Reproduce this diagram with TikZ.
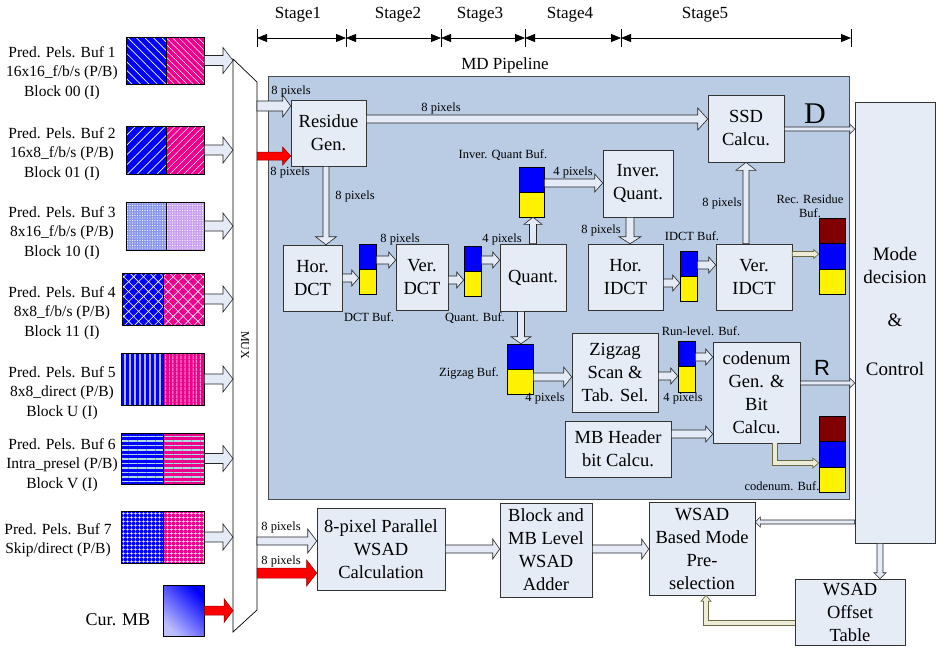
\documentclass[tikz,border=0pt]{standalone}
\usepackage{fontspec}
\setmainfont{Liberation Serif}
\newfontfamily\sansf{Liberation Sans}
\usetikzlibrary{calc,patterns.meta,arrows.meta}
\definecolor{pipe}{RGB}{185,204,228}
\definecolor{boxfill}{RGB}{230,236,246}
\definecolor{arrfill}{RGB}{228,234,246}
\definecolor{cream}{RGB}{236,236,214}
\definecolor{olivedk}{RGB}{105,105,70}
\definecolor{dred}{RGB}{128,0,0}
\definecolor{lav}{RGB}{200,160,238}
\definecolor{bluedot}{RGB}{135,150,235}
\definecolor{cyanln}{RGB}{170,220,225}
% block arrow: [style]{from}{to}{shaft half width}{head half width}{head length}
\newcommand\blk[6][]{%
  \path let \p1=(#2), \p2=(#3), \n1={atan2(\y2-\y1,\x2-\x1)}, \n2={veclen(\x2-\x1,\y2-\y1)} in
    \pgfextra{\xdef\blkang{\n1}\xdef\blklen{\n2}} (\p1) coordinate (blkS);
  \begin{scope}[shift={(blkS)}, rotate=\blkang]
    \draw[barrow,#1] (0,#4) -- (\blklen-#6,#4) -- (\blklen-#6,#5) -- (\blklen,0)
      -- (\blklen-#6,-#5) -- (\blklen-#6,-#4) -- (0,-#4) -- cycle;
  \end{scope}}
\begin{document}
\begin{tikzpicture}[x=1pt,y=-1pt,
  box/.style={draw=black!80, fill=boxfill, line width=0.6pt, align=center, inner sep=0pt,
    font=\fontsize{18.5}{23}\selectfont},
  lbl/.style={inner sep=0pt, align=center, font=\fontsize{12.5}{14}\selectfont},
  buflbl/.style={inner sep=0pt, align=center, font=\fontsize{15.5}{19.5}\selectfont},
  stglbl/.style={inner sep=0pt, font=\fontsize{17}{19}\selectfont},
  barrow/.style={draw=black!85, fill=arrfill, line width=0.6pt, line join=miter},
  redarr/.style={draw=red!55!black, fill=red, line width=0.5pt},
  creamarr/.style={draw=olivedk, fill=cream, line width=0.7pt},
  creamline/.style={draw=olivedk, line width=0.7pt, double=cream, double distance=4.3pt},
  bufc/.style={draw=black, line width=0.6pt, inner sep=0pt},
  pbuf/.style={draw=black, line width=0.9pt, inner sep=0pt},
  stg/.style={line width=0.8pt, >={Triangle[length=10pt,width=8pt]}, <->}
]
\useasboundingbox (0,0) rectangle (936,648);
\fill[white] (0,0) rectangle (936,648);

% ---------- stage header ----------
\coordinate (t0) at (257,38);
\coordinate (t1) at (346,38);
\coordinate (t2) at (441,38);
\coordinate (t3) at (525,38);
\coordinate (t4) at (621,38);
\coordinate (t5) at (851,38);
\foreach \tk in {t0,t1,t2,t3,t4,t5} \draw[line width=0.7pt] (\tk) ++(0,-9) -- ++(0,18);
\draw[stg] (t0) -- (t1);
\draw[stg] (t1) -- (t2);
\draw[stg] (t2) -- (t3);
\draw[stg] (t3) -- (t4);
\draw[stg] (t4) -- (t5);
\node[stglbl] (s1) at (298,15) {Stage1};
\node[stglbl] (s2) at (398,15) {Stage2};
\node[stglbl] (s3) at (480,15) {Stage3};
\node[stglbl] (s4) at (570,15) {Stage4};
\node[stglbl] (s5) at (705,15) {Stage5};
\node[stglbl] (mdp) at (505,65) {MD Pipeline};

% ---------- pipeline background ----------
\node[draw=black!70, fill=pipe, line width=0.7pt, minimum width=581pt, minimum height=423pt,
  inner sep=0pt, anchor=north west] (pipe) at (268,76) {};

% ---------- left buffers ----------
\node[pbuf, minimum width=40pt, minimum height=47pt, preaction={fill=blue},
  pattern={Lines[angle=-45,distance=6pt,line width=0.7pt]}, pattern color=white] (b1l) at (146,60.5) {};
\node[pbuf, minimum width=38pt, minimum height=47pt, preaction={fill=magenta},
  pattern={Lines[angle=-45,distance=4.5pt,line width=0.5pt]}, pattern color=white] (b1r) at (185,60.5) {};
\node[pbuf, minimum width=40pt, minimum height=48pt, preaction={fill=blue},
  pattern={Lines[angle=45,distance=7pt,line width=0.7pt]}, pattern color=white] (b2l) at (146,150) {};
\node[pbuf, minimum width=38pt, minimum height=48pt, preaction={fill=magenta},
  pattern={Lines[angle=45,distance=5pt,line width=0.5pt]}, pattern color=white] (b2r) at (185,150) {};
\node[pbuf, minimum width=40pt, minimum height=48pt, preaction={fill=bluedot},
  pattern={Dots[distance=2.5pt,radius=0.6pt]}, pattern color=white] (b3l) at (146,226) {};
\node[pbuf, minimum width=38pt, minimum height=48pt, preaction={fill=lav},
  pattern={Dots[distance=2.5pt,radius=0.6pt]}, pattern color=white] (b3r) at (185,226) {};
\node[pbuf, minimum width=41pt, minimum height=52pt, preaction={fill=blue},
  pattern={Hatch[angle=45,distance=7pt,line width=0.6pt]}, pattern color=white] (b4l) at (142.5,299) {};
\node[pbuf, minimum width=41pt, minimum height=52pt, preaction={fill=magenta},
  pattern={Hatch[angle=45,distance=7pt,line width=0.6pt]}, pattern color=white] (b4r) at (183.5,299) {};
\node[pbuf, minimum width=42pt, minimum height=52pt, preaction={fill=blue},
  pattern={Lines[angle=90,distance=5pt,line width=1.2pt]}, pattern color=blue!30!white] (b5l) at (142,379) {};
\node[pbuf, minimum width=41pt, minimum height=52pt, preaction={fill=magenta},
  pattern={Lines[angle=90,distance=4pt,line width=0.8pt]}, pattern color=white] (b5r) at (183.5,379) {};
\node[pbuf, minimum width=42pt, minimum height=51pt, preaction={fill=blue},
  pattern={Lines[angle=0,distance=4.5pt,line width=1.1pt]}, pattern color=cyanln] (b6l) at (142,458.5) {};
\node[pbuf, minimum width=41pt, minimum height=51pt, preaction={fill=magenta},
  pattern={Lines[angle=0,distance=4.5pt,line width=1.1pt]}, pattern color=cyanln] (b6r) at (183.5,458.5) {};
\node[pbuf, minimum width=42pt, minimum height=52pt, preaction={fill=blue},
  pattern={Hatch[angle=0,distance=4pt,line width=0.5pt]}, pattern color=white] (b7l) at (142,537) {};
\node[pbuf, minimum width=41pt, minimum height=52pt, preaction={fill=magenta},
  pattern={Hatch[angle=0,distance=4pt,line width=0.5pt]}, pattern color=white] (b7r) at (183.5,537) {};
\node[pbuf, minimum width=41pt, minimum height=51pt, top color=blue, bottom color=blue!25!white,
  shading angle=-45] (cmb) at (183.5,610.5) {};

\node[buflbl] (l1) at (62,73) {Pred. Pels. Buf 1\\16x16\_f/b/s (P/B)\\Block 00 (I)};
\node[buflbl] (l2) at (62,154) {Pred. Pels. Buf 2\\16x8\_f/b/s (P/B)\\Block 01 (I)};
\node[buflbl] (l3) at (62,233) {Pred. Pels. Buf 3\\8x16\_f/b/s (P/B)\\Block 10 (I)};
\node[buflbl] (l4) at (62,313) {Pred. Pels. Buf 4\\8x8\_f/b/s (P/B)\\Block 11 (I)};
\node[buflbl] (l5) at (62,393) {Pred. Pels. Buf 5\\8x8\_direct (P/B)\\Block U (I)};
\node[buflbl] (l6) at (62,465) {Pred. Pels. Buf 6\\Intra\_presel (P/B)\\Block V (I)};
\node[buflbl] (l7) at (58,540) {Pred. Pels. Buf 7\\Skip/direct (P/B)};
\node[inner sep=0pt, font=\fontsize{18}{20}\selectfont] (lcur) at (118,620) {Cur. MB};

% ---------- MUX ----------
\draw[fill=white, line width=0.7pt] (233,59) -- (257,82) -- (257,610) -- (233,632) -- cycle;
\coordinate (muxL) at (233,0);
\node[rotate=-90, inner sep=0pt, font=\fontsize{12}{14}\selectfont] (muxlbl) at (245,345) {MUX};

\blk{b1r.east}{muxL |- b1r.east}{5}{13}{10}
\blk{b2r.east}{muxL |- b2r.east}{5}{13}{10}
\blk{b3r.east}{muxL |- b3r.east}{5}{13}{10}
\blk{b4r.east}{muxL |- b4r.east}{5}{13}{10}
\blk{b5r.east}{muxL |- b5r.east}{5}{13}{10}
\blk{b6r.east}{muxL |- b6r.east}{5}{13}{10}
\blk{b7r.east}{muxL |- b7r.east}{5}{13}{10}
\blk[redarr]{cmb.east}{muxL |- cmb.east}{4.5}{12}{9}

% ---------- pipeline boxes ----------
\node[box, minimum width=75pt, minimum height=66pt] (res) at (328.5,133) {Residue\\Gen.};
\node[box, minimum width=76pt, minimum height=67pt] (ssd) at (746,128.5) {SSD\\Calcu.};
\node[box, minimum width=59pt, minimum height=66pt] (hdct) at (312.5,278) {Hor.\\DCT};
\node[box, minimum width=52pt, minimum height=66pt] (vdct) at (422,277) {Ver.\\DCT};
\node[box, minimum width=66pt, minimum height=67pt] (quant) at (533,277.5) {Quant.};
\node[box, minimum width=70pt, minimum height=67pt] (iq) at (638,183.5) {Inver.\\Quant.};
\node[box, minimum width=75pt, minimum height=66pt] (hidct) at (625.5,277) {Hor.\\IDCT};
\node[box, minimum width=76pt, minimum height=66pt] (vidct) at (754,277) {Ver.\\IDCT};
\node[box, minimum width=86pt, minimum height=79pt] (zz) at (615,372.5) {Zigzag\\Scan \&\\Tab. Sel.};
\node[box, minimum width=87pt, minimum height=101pt] (cg) at (756.5,392.5) {codenum\\Gen. \&\\Bit\\Calcu.};
\node[box, minimum width=106pt, minimum height=56pt] (mbh) at (618,449) {MB Header\\bit Calcu.};

% ---------- outside boxes ----------
\node[box, minimum width=80pt, minimum height=441pt] (mode) at (895,322.5) {};
\node[inner sep=0pt, align=center, font=\fontsize{19}{23}\selectfont] (modetxt) at (895,311)
  {Mode\\decision\\[20pt]\&\\[26pt]Control};
\node[box, minimum width=128pt, minimum height=82pt] (wcalc) at (381,549) {8-pixel Parallel\\WSAD\\Calculation};
\node[box, minimum width=92pt, minimum height=94pt] (badd) at (546,550) {Block and\\MB Level\\WSAD\\Adder};
\node[box, minimum width=106pt, minimum height=93pt] (wbm) at (702,548.5) {WSAD\\Based Mode\\Pre-\\selection};
\node[box, minimum width=110pt, minimum height=66pt] (offs) at (850,612) {WSAD\\Offset\\Table};

% ---------- small buffers ----------
\node[bufc, fill=blue, minimum width=17pt, minimum height=25pt] (dctb1) at (367.5,256.5) {};
\node[bufc, fill=yellow, minimum width=17pt, minimum height=25pt] (dctb2) at (367.5,281.5) {};
\node[bufc, fill=blue, minimum width=17pt, minimum height=25pt] (qb1) at (472.5,258.5) {};
\node[bufc, fill=yellow, minimum width=17pt, minimum height=25pt] (qb2) at (472.5,283.5) {};
\node[bufc, fill=blue, minimum width=25pt, minimum height=25pt] (iqb1) at (531.5,179.5) {};
\node[bufc, fill=yellow, minimum width=25pt, minimum height=25pt] (iqb2) at (531.5,204.5) {};
\node[bufc, fill=blue, minimum width=17pt, minimum height=25pt] (idb1) at (688.5,263.5) {};
\node[bufc, fill=yellow, minimum width=17pt, minimum height=25pt] (idb2) at (688.5,288.5) {};
\node[bufc, fill=blue, minimum width=26pt, minimum height=25pt] (zzb1) at (520,356.5) {};
\node[bufc, fill=yellow, minimum width=26pt, minimum height=25pt] (zzb2) at (520,381.5) {};
\node[bufc, fill=blue, minimum width=17pt, minimum height=25.5pt] (rlb1) at (686.5,353.75) {};
\node[bufc, fill=yellow, minimum width=17pt, minimum height=25.5pt] (rlb2) at (686.5,379.25) {};
\node[bufc, fill=dred, minimum width=26pt, minimum height=25.5pt] (recr) at (832,230.75) {};
\node[bufc, fill=blue, minimum width=26pt, minimum height=25.5pt] (recb) at (832,256.25) {};
\node[bufc, fill=yellow, minimum width=26pt, minimum height=25.5pt] (recy) at (832,281.75) {};
\node[bufc, fill=dred, minimum width=26pt, minimum height=25.5pt] (cnr) at (832,428.75) {};
\node[bufc, fill=blue, minimum width=26pt, minimum height=25.5pt] (cnb) at (832,454.25) {};
\node[bufc, fill=yellow, minimum width=26pt, minimum height=25.5pt] (cny) at (832,479.75) {};

% ---------- MUX outputs ----------
\coordinate (o1) at (257,106);
\coordinate (o2) at (257,156);
\coordinate (o3) at (257,541);
\coordinate (o4) at (257,573);
\blk{o1}{res.west |- o1}{5}{11}{8}
\blk[redarr]{o2}{res.west |- o2}{4}{9}{8}
\blk{o3}{wcalc.west |- o3}{4}{12}{9}
\blk[redarr]{o4}{wcalc.west |- o4}{5}{13}{10}

% ---------- pipeline arrows ----------
\coordinate (yr) at (0,119);
\coordinate (xr) at (326,0);
\blk{res.east |- yr}{ssd.west |- yr}{4}{11}{10}
\blk{res.south -| xr}{hdct.north -| xr}{3}{10.5}{8}
\coordinate (ya) at (0,278);
\blk{hdct.east |- ya}{dctb2.west |- ya}{4}{8}{7}
\coordinate (yb) at (0,260);
\blk{dctb1.east |- yb}{vdct.west |- yb}{4}{8}{7}
\coordinate (yc) at (0,280);
\blk{vdct.east |- yc}{qb2.west |- yc}{4}{8}{7}
\coordinate (yd) at (0,260);
\blk{qb1.east |- yd}{quant.west |- yd}{4}{8}{7}
\coordinate (xq) at (533,0);
\blk{quant.north -| xq}{iqb2.south -| xq}{3.5}{9}{7}
\coordinate (ye) at (0,183);
\blk{iqb1.east |- ye}{iq.west |- ye}{4}{9}{8}
\coordinate (xi) at (630,0);
\blk{iq.south -| xi}{hidct.north -| xi}{4}{11}{7}
\coordinate (yf) at (0,283);
\blk{hidct.east |- yf}{idb2.west |- yf}{4}{8}{7}
\coordinate (yg) at (0,265);
\blk{idb1.east |- yg}{vidct.west |- yg}{4}{8}{7}
\coordinate (xv) at (746,0);
\blk{vidct.north -| xv}{ssd.south -| xv}{3}{10}{8}
\coordinate (yh) at (0,254);
\blk[creamarr]{vidct.east |- yh}{recb.west |- yh}{2.5}{4.5}{5}
\coordinate (xz) at (521,0);
\blk{quant.south -| xz}{zzb1.north -| xz}{3.5}{10}{7}
\coordinate (yi) at (0,377);
\blk{zzb2.east |- yi}{zz.west |- yi}{4}{10}{8}
\coordinate (yj) at (0,376);
\blk{zz.east |- yj}{rlb2.west |- yj}{4}{8}{7}
\coordinate (yk) at (0,357);
\blk{rlb1.east |- yk}{cg.west |- yk}{4}{8}{7}
\coordinate (yl) at (0,434);
\blk{mbh.east |- yl}{cg.west |- yl}{4}{8}{7}
\coordinate (ym) at (0,383);
\blk{cg.east |- ym}{mode.west |- ym}{2}{5}{5}
\coordinate (yn) at (0,129);
\blk{ssd.east |- yn}{mode.west |- yn}{2}{5}{5}
% codenum -> codenum buf
\coordinate (xe) at (775,0);
\coordinate (e2) at (775,463);
\coordinate (ex) at (809,463);
\blk[creamarr]{ex}{cnb.west |- ex}{2.5}{5}{6}
\draw[creamline] (cg.south -| xe) -- (e2) -- ([xshift=2pt]ex);

% ---------- bottom arrows ----------
\coordinate (yw) at (0,549);
\blk{wcalc.east |- yw}{badd.west |- yw}{4}{10}{7}
\blk{badd.east |- yw}{wbm.west |- yw}{4}{10}{7}
\coordinate (yq) at (0,522);
\blk{mode.west |- yq}{wbm.east |- yq}{2}{5}{5}
\coordinate (xm) at (880,0);
\blk{mode.south -| xm}{offs.north -| xm}{3}{6}{6}
\coordinate (yo) at (0,623);
\coordinate (xo) at (706,0);
\coordinate (ey) at (706,603);
\blk[creamarr]{ey}{wbm.south -| xo}{2.5}{5}{6}
\draw[creamline] (offs.west |- yo) -- (xo |- yo) -- ([yshift=2pt]ey);

% ---------- labels ----------
\node[lbl] (p1) at (291,91) {8 pixels};
\node[lbl] (p2) at (290,172) {8 pixels};
\node[lbl] (p3) at (441,108) {8 pixels};
\node[lbl] (p4) at (355,196) {8 pixels};
\node[lbl] (p5) at (400,239) {8 pixels};
\node[lbl] (p6) at (369,317) {DCT Buf.};
\node[lbl] (p7) at (502,239) {4 pixels};
\node[lbl] (p8) at (475,318) {Quant. Buf.};
\node[lbl] (p9) at (503,155) {Inver. Quant Buf.};
\node[lbl] (p10) at (573,172) {4 pixels};
\node[lbl] (p11) at (601,230) {8 pixels};
\node[lbl] (p12) at (692,236) {IDCT Buf.};
\node[lbl] (p13) at (722,203) {8 pixels};
\node[lbl] (p14) at (810,206) {Rec. Residue\\Buf.};
\node[lbl] (p15) at (469,373) {Zigzag Buf.};
\node[lbl] (p16) at (545,398) {4 pixels};
\node[lbl] (p17) at (701,331) {Run-level. Buf.};
\node[lbl] (p18) at (683,398) {4 pixels};
\node[lbl] (p19) at (782,486) {codenum. Buf.};
\node[lbl] (p20) at (281,527) {8 pixels};
\node[lbl] (p21) at (281,561) {8 pixels};
\node[inner sep=0pt, font=\fontsize{30}{32}\selectfont] (dlbl) at (815,114) {D};
\node[inner sep=0pt, font=\sansf\fontsize{22}{24}\selectfont] (rlbl) at (822,368) {R};
\end{tikzpicture}
\end{document}
